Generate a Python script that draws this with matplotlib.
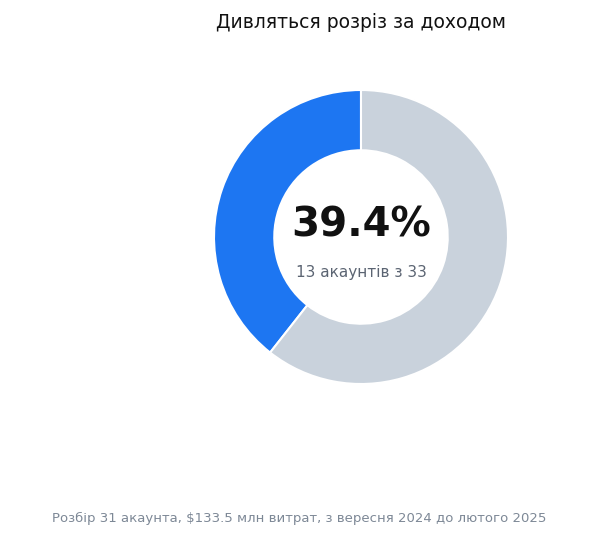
import matplotlib
matplotlib.use("Agg")
import matplotlib.pyplot as plt

labels = ["Дивляться розріз", "Інші"]
values = [13, 20]
colors = ["#1d76f2", "#c9d2dc"]
total = 33

fig = plt.figure(figsize=(5.99, 5.41), dpi=100)
w, h = 294 / 599, 294 / 541
cx, cy = 361 / 599, 1 - 237 / 541
ax = fig.add_axes([cx - w / 2, cy - h / 2, w, h])
ax.pie(values, colors=colors, startangle=90, counterclock=True, radius=1,
       wedgeprops=dict(width=0.41, edgecolor="white", linewidth=1.5))
ax.set_xlim(-1, 1); ax.set_ylim(-1, 1); ax.set_aspect("equal"); ax.axis("off")
pct = values[0] / total * 100
ax.text(0, 0.08, f"{pct:.1f}%", ha="center", va="center", fontsize=29, fontweight="bold", color="#111111")
ax.text(0, -0.24, f"{values[0]} акаунтів з {total}", ha="center", va="center", fontsize=11, color="#5b6472")
fig.text(cx, 1 - 23 / 541, "Дивляться розріз за доходом", ha="center", va="center", fontsize=13.5, color="#111111")
fig.text(0.5, 1 - 518 / 541, "Розбір 31 акаунта, $133.5 млн витрат, з вересня 2024 до лютого 2025",
         ha="center", va="center", fontsize=9.5, color="#7d8896")
fig.savefig("out.png", dpi=100)
